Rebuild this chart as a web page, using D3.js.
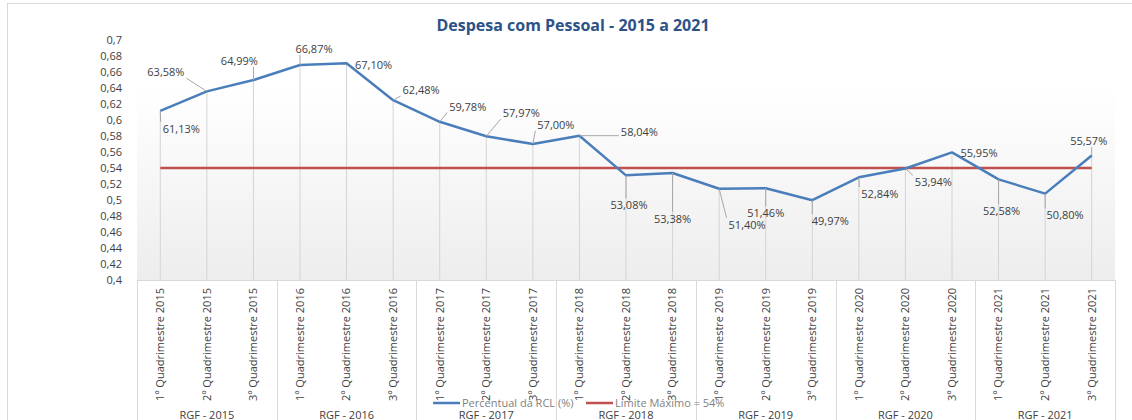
<!DOCTYPE html>
<html>
<head>
<meta charset="utf-8">
<script src="https://cdn.jsdelivr.net/npm/d3@7"></script>
<style>
  body { margin: 0; background: #fff; }
  svg { display: block; font-family: "Open Sans", sans-serif; }
</style>
</head>
<body>
<div id="chart"></div>
<script>
// Data
const periods = [
  "1º Quadrimestre 2015", "2º Quadrimestre 2015", "3º Quadrimestre 2015",
  "1º Quadrimestre 2016", "2º Quadrimestre 2016", "3º Quadrimestre 2016",
  "1º Quadrimestre 2017", "2º Quadrimestre 2017", "3º Quadrimestre 2017",
  "1º Quadrimestre 2018", "2º Quadrimestre 2018", "3º Quadrimestre 2018",
  "1º Quadrimestre 2019", "2º Quadrimestre 2019", "3º Quadrimestre 2019",
  "1º Quadrimestre 2020", "2º Quadrimestre 2020", "3º Quadrimestre 2020",
  "1º Quadrimestre 2021", "2º Quadrimestre 2021", "3º Quadrimestre 2021"
];
const groups = ["RGF - 2015", "RGF - 2016", "RGF - 2017", "RGF - 2018", "RGF - 2019", "RGF - 2020", "RGF - 2021"];
const percentual = [
  0.6113, 0.6358, 0.6499, 0.6687, 0.6710, 0.6248, 0.5978,
  0.5797, 0.5700, 0.5804, 0.5308, 0.5338, 0.5140, 0.5146,
  0.4997, 0.5284, 0.5394, 0.5595, 0.5258, 0.5080, 0.5557
];
const limite = 0.54;
const yTicks = [0.40, 0.42, 0.44, 0.46, 0.48, 0.50, 0.52, 0.54, 0.56, 0.58, 0.60, 0.62, 0.64, 0.66, 0.68, 0.70];
const seriesNames = ["Percentual da RCL (%)", "Limite Máximo = 54%"];

// label placement (pixel offset of label centre from its point)
const labelOffsets = [
  [21, 18], [-41, -19], [-14, -19], [14, -16], [27, 2], [28, -10], [28, -15],
  [35, -23], [23, -19], [60, -4], [3, 30], [0, 46], [28, 36], [0, 25],
  [18, 21], [21, 17], [28, 14], [27, 1], [3, 32], [20, 22], [-3, -14]
];

// Setup
const width = 1132;
const height = 420;
const plot = { left: 137, right: 1115, top: 40, bottom: 280 };
const blue = "#4a7ebb";
const red = "#c0504d";

const svg = d3.select("#chart")
  .append("svg")
  .attr("width", width)
  .attr("height", height);

const x = d3.scaleBand()
  .domain(periods)
  .range([plot.left, plot.right]);

const y = d3.scaleLinear()
  .domain([0.4, 0.7])
  .range([plot.bottom, plot.top]);

const cx = d => x(d) + x.bandwidth() / 2;
const comma = s => s.replace(".", ",");

// Chart border
svg.append("rect")
  .attr("x", 7.5).attr("y", 3.5)
  .attr("width", width + 20).attr("height", height + 20)
  .attr("fill", "#fff")
  .attr("stroke", "#d9d9d9");

// Plot area gradient
const grad = svg.append("defs").append("linearGradient")
  .attr("id", "bg").attr("x1", 0).attr("y1", 0).attr("x2", 0).attr("y2", 1);
grad.append("stop").attr("offset", "0%").attr("stop-color", "#ffffff");
grad.append("stop").attr("offset", "20%").attr("stop-color", "#ffffff");
grad.append("stop").attr("offset", "100%").attr("stop-color", "#ededed");

svg.append("rect")
  .attr("x", plot.left).attr("y", plot.top)
  .attr("width", plot.right - plot.left).attr("height", plot.bottom - plot.top)
  .attr("fill", "url(#bg)");

// Title
svg.append("text")
  .attr("x", 573).attr("y", 31)
  .attr("text-anchor", "middle")
  .attr("font-size", 16).attr("font-weight", "bold")
  .attr("fill", "#2c5287")
  .text("Despesa com Pessoal - 2015 a 2021");

// Y axis
const yAxis = svg.append("g")
  .attr("transform", `translate(${plot.left - 12},0)`)
  .call(d3.axisLeft(y).tickValues(yTicks).tickSize(0).tickFormat(d => comma(d3.format(".2~f")(d))));
yAxis.select(".domain").remove();
yAxis.selectAll("text")
  .attr("font-family", "Open Sans, sans-serif")
  .attr("font-size", 11)
  .attr("fill", "#404040");

// Drop lines
svg.append("g")
  .selectAll("line")
  .data(periods)
  .join("line")
  .attr("x1", d => cx(d)).attr("x2", d => cx(d))
  .attr("y1", (d, i) => y(percentual[i]))
  .attr("y2", plot.bottom)
  .attr("stroke", "#d4d4d4");

// Category axis area
svg.append("line")
  .attr("x1", plot.left).attr("x2", plot.right)
  .attr("y1", plot.bottom + 0.5).attr("y2", plot.bottom + 0.5)
  .attr("stroke", "#d9d9d9");

const groupEdge = k => Math.round(k < groups.length ? x(periods[k * 3]) : plot.right) + 0.5;

svg.append("g")
  .selectAll("line")
  .data(d3.range(groups.length + 1))
  .join("line")
  .attr("x1", groupEdge)
  .attr("x2", groupEdge)
  .attr("y1", plot.bottom).attr("y2", height)
  .attr("stroke", "#d9d9d9");

svg.append("g")
  .selectAll("text")
  .data(periods)
  .join("text")
  .attr("transform", d => `translate(${cx(d)},${plot.bottom + 8}) rotate(-90)`)
  .attr("text-anchor", "end")
  .attr("dy", "0.35em")
  .attr("font-size", 11)
  .attr("fill", "#404040")
  .text(d => d);

svg.append("g")
  .selectAll("text")
  .data(groups)
  .join("text")
  .attr("x", (d, k) => x(periods[k * 3]) + x.bandwidth() * 1.5)
  .attr("y", 419)
  .attr("text-anchor", "middle")
  .attr("font-size", 11)
  .attr("fill", "#404040")
  .text(d => d);

// Limit line
svg.append("line")
  .attr("x1", cx(periods[0])).attr("x2", cx(periods[periods.length - 1]))
  .attr("y1", y(limite)).attr("y2", y(limite))
  .attr("stroke", red).attr("stroke-width", 2.5);

// Series line
const line = d3.line()
  .x((d, i) => cx(periods[i]))
  .y(d => y(d));

svg.append("path")
  .datum(percentual)
  .attr("d", line)
  .attr("fill", "none")
  .attr("stroke", blue)
  .attr("stroke-width", 2.5)
  .attr("stroke-linejoin", "round");

// Data labels with leader lines
const leaderG = svg.append("g");
const labelG = svg.append("g");

percentual.forEach((v, i) => {
  const px = cx(periods[i]);
  const py = y(v);
  const t = labelG.append("text")
    .attr("x", px + labelOffsets[i][0])
    .attr("y", py + labelOffsets[i][1])
    .attr("dy", "0.35em")
    .attr("text-anchor", "middle")
    .attr("font-size", 11)
    .attr("fill", "#404040")
    .text(comma(d3.format(".2%")(v)));

  const b = t.node().getBBox();
  const bx = Math.max(b.x - 2, Math.min(px, b.x + b.width + 2));
  const by = Math.max(b.y + 1, Math.min(py, b.y + b.height - 1));
  if (Math.hypot(bx - px, by - py) > 7) {
    leaderG.append("line")
      .attr("x1", px).attr("y1", py)
      .attr("x2", bx).attr("y2", by)
      .attr("stroke", "#a6a6a6");
  }
});

// Legend
const legend = svg.append("g")
  .selectAll("g")
  .data(seriesNames)
  .join("g")
  .attr("transform", (d, i) => `translate(${433 + i * 153},403)`);

legend.append("line")
  .attr("x1", 0).attr("x2", 27)
  .attr("stroke", (d, i) => i === 0 ? blue : red)
  .attr("stroke-width", 2.5);

legend.append("text")
  .attr("x", 29).attr("dy", "0.35em")
  .attr("font-size", 11)
  .attr("fill", "#7f7f7f")
  .text(d => d);
</script>
</body>
</html>
